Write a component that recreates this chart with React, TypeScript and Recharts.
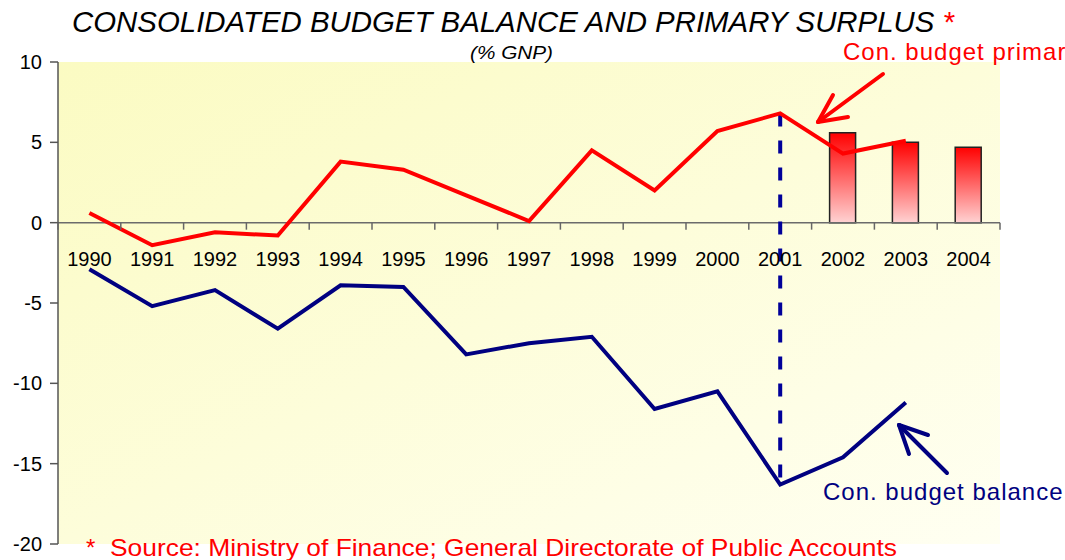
import {
  ComposedChart,
  Line,
  Bar,
  XAxis,
  YAxis,
  CartesianGrid,
  ReferenceLine,
} from "recharts";

const years = ["1990", "1991", "1992", "1993", "1994", "1995", "1996", "1997", "1998", "1999", "2000", "2001", "2002", "2003", "2004"];
const primarySurplus = [0.6, -1.4, -0.6, -0.8, 3.8, 3.3, 1.7, 0.1, 4.5, 2.0, 5.7, 6.8, 4.3, 5.1, null];
const budgetBalance = [-2.9, -5.2, -4.2, -6.6, -3.9, -4.0, -8.2, -7.5, -7.1, -11.6, -10.5, -16.3, -14.6, -11.2, null];
const primaryTargets = [null, null, null, null, null, null, null, null, null, null, null, null, 5.6, 5.0, 4.7];
const yTicks = [10, 5, 0, -5, -10, -15, -20];

const W = 1065;
const H = 560;
const M = { top: 62, right: 65, bottom: 15, left: 0 };
const X_AXIS_H = 1;
const Y_MAX = 10;
const Y_MIN = -20;
const PLOT_H = H - M.top - M.bottom - X_AXIS_H;
const zeroY = M.top + (PLOT_H * Y_MAX) / (Y_MAX - Y_MIN);
const FONT = "'Liberation Sans', Arial, Helvetica, sans-serif";

const data = years.map((year, i) => ({
  year,
  primary: primarySurplus[i],
  balance: budgetBalance[i],
  target: primaryTargets[i],
}));

const pivot = years.indexOf("2001");

// category labels sit under the zero line, not under the plot
const ZeroTick = (props: any) => {
  const { x, index, payload } = props;
  const bw = (W - M.right - 58) / years.length;
  return (
    <g>
      <line x1={x - bw / 2} x2={x - bw / 2} y1={zeroY} y2={zeroY + 7} stroke="#666" strokeWidth={1.5} />
      {index === years.length - 1 && (
        <line x1={x + bw / 2} x2={x + bw / 2} y1={zeroY} y2={zeroY + 7} stroke="#666" strokeWidth={1.5} />
      )}
      <text x={x} y={zeroY + 43} textAnchor="middle" fontSize={20} fontFamily={FONT} fill="#000">
        {payload.value}
      </text>
    </g>
  );
};

export default function App() {
  return (
    <div style={{ position: "absolute", left: 0, top: 0, width: W, height: H, overflow: "hidden", background: "#fff" }}>
      <ComposedChart width={W} height={H} data={data} margin={M}>
        <defs>
          <linearGradient id="bgGrad" x1="0" y1="0" x2="1" y2="1">
            <stop offset="0%" stopColor="#FBFBC2" />
            <stop offset="100%" stopColor="#FFFFF2" />
          </linearGradient>
          <linearGradient id="barGrad" x1="0" y1="0" x2="0" y2="1">
            <stop offset="0%" stopColor="#FF0000" />
            <stop offset="100%" stopColor="#FFD2D2" />
          </linearGradient>
        </defs>
        <CartesianGrid horizontal={false} vertical={false} fill="url(#bgGrad)" />
        <XAxis
          dataKey="year"
          height={X_AXIS_H}
          axisLine={false}
          tickLine={false}
          interval={0}
          tick={ZeroTick}
        />
        <YAxis
          width={58}
          domain={[Y_MIN, Y_MAX]}
          ticks={yTicks}
          interval={0}
          tickSize={8}
          tickMargin={8}
          axisLine={{ stroke: "#555", strokeWidth: 1.5 }}
          tickLine={{ stroke: "#555", strokeWidth: 1.5 }}
          tick={{ fontSize: 20, fontFamily: FONT, fill: "#000" }}
        />
        <ReferenceLine y={0} stroke="#6b6b6b" strokeWidth={1.5} />
        <Bar dataKey="target" barSize={26} fill="url(#barGrad)" stroke="#222" strokeWidth={1.5} isAnimationActive={false} />
        <ReferenceLine
          segment={[
            { x: years[pivot], y: primarySurplus[pivot] as number },
            { x: years[pivot], y: budgetBalance[pivot] as number },
          ]}
          stroke="#000099"
          strokeWidth={4}
          strokeDasharray="13 14"
        />
        <Line dataKey="primary" stroke="#FF0000" strokeWidth={4} dot={false} isAnimationActive={false} />
        <Line dataKey="balance" stroke="#000080" strokeWidth={4} dot={false} isAnimationActive={false} />
      </ComposedChart>

      <svg width={W} height={H} style={{ position: "absolute", left: 0, top: 0, pointerEvents: "none" }}>
        <text x={72} y={32} fontSize={30} fontStyle="italic" fontFamily={FONT} fill="#000" textLength={882} lengthAdjust="spacingAndGlyphs">
          CONSOLIDATED BUDGET BALANCE AND PRIMARY SURPLUS <tspan fill="#FF0000">*</tspan>
        </text>
        <text x={470} y={59} fontSize={18} fontStyle="italic" fontFamily={FONT} fill="#000" textLength={83} lengthAdjust="spacingAndGlyphs">
          (% GNP)
        </text>

        <text x={843} y={60} fontSize={24} letterSpacing={1} fontFamily={FONT} fill="#FF0000">
          Con. budget primary surplus
        </text>
        <g stroke="#FF0000" strokeWidth={4} strokeLinecap="round" fill="none">
          <line x1={883} y1={74} x2={818} y2={122} />
          <line x1={818} y1={122} x2={833} y2={95} />
          <line x1={818} y1={122} x2={848} y2={117} />
        </g>

        <text x={823} y={500} fontSize={24} letterSpacing={1} fontFamily={FONT} fill="#000080">
          Con. budget balance
        </text>
        <g stroke="#000080" strokeWidth={4} strokeLinecap="round" fill="none">
          <line x1={947} y1={473} x2={899} y2={425} />
          <line x1={899} y1={425} x2={909} y2={454} />
          <line x1={899} y1={425} x2={928} y2={435} />
        </g>

        <text x={86} y={556} fontSize={24} fontFamily={FONT} fill="#FF0000">*</text>
        <text x={110} y={556} fontSize={24} fontFamily={FONT} fill="#FF0000" textLength={787} lengthAdjust="spacingAndGlyphs">
          Source: Ministry of Finance; General Directorate of Public Accounts
        </text>
      </svg>
    </div>
  );
}
